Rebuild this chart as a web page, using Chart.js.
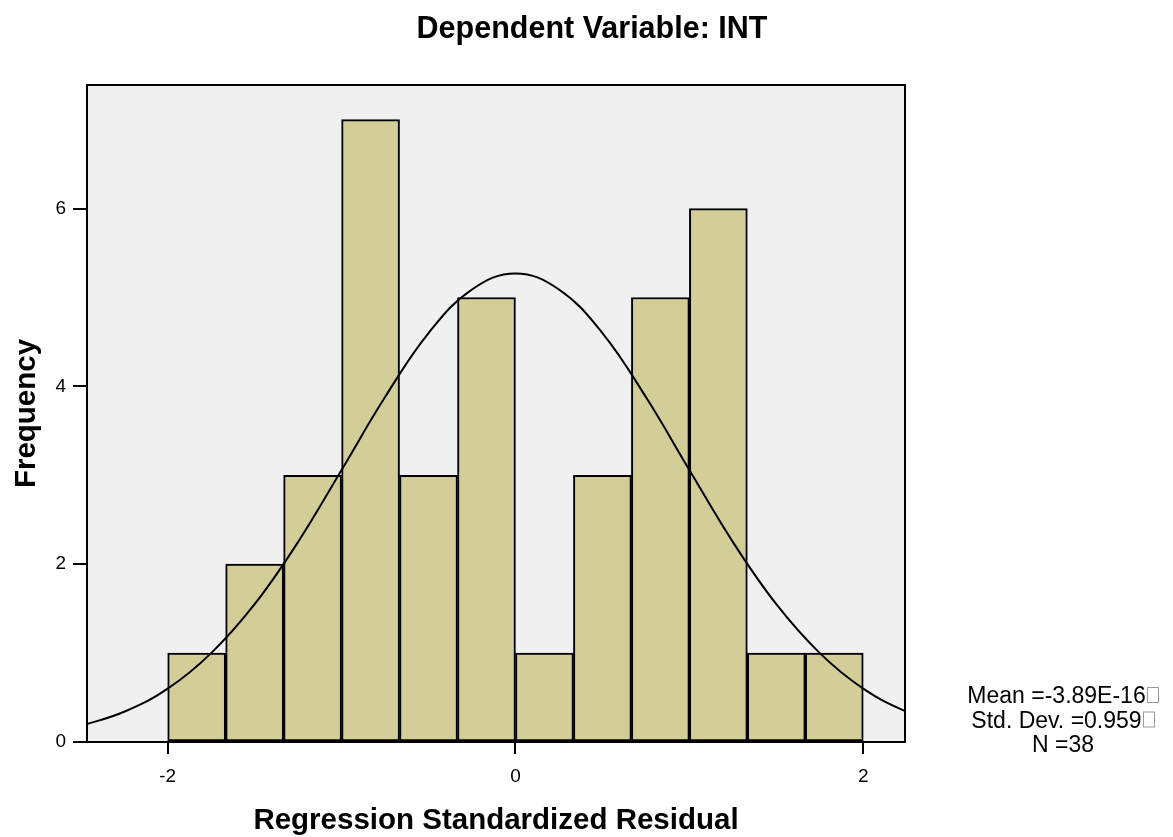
<!DOCTYPE html>
<html>
<head>
<meta charset="utf-8">
<title>Dependent Variable: INT</title>
<script src="https://cdn.jsdelivr.net/npm/chart.js@4.4.1/dist/chart.umd.min.js"></script>
<style>
  html, body { margin: 0; padding: 0; background: #fff; }
  #wrap { width: 1173px; height: 837px; }
</style>
</head>
<body>
<div id="wrap"><canvas id="chart" width="1173" height="837"></canvas></div>
<script>
// Histogram bins (centres of the 12 bars between -2 and 2) and their counts
const binCenters = [-1.8333, -1.5, -1.1667, -0.8333, -0.5, -0.1667, 0.1667, 0.5, 0.8333, 1.1667, 1.5, 1.8333];
const counts = [1, 2, 3, 7, 3, 5, 1, 3, 5, 6, 1, 1];

// Normal curve
const curveX = [-2.5, -2.25, -2, -1.75, -1.5, -1.25, -1, -0.75, -0.5, -0.25, 0, 0.25, 0.5, 0.75, 1, 1.25, 1.5, 1.75, 2, 2.25, 2.5];
const curveY = [0.18, 0.34, 0.60, 1.00, 1.55, 2.25, 3.06, 3.88, 4.60, 5.09, 5.27, 5.09, 4.60, 3.88, 3.06, 2.25, 1.55, 1.00, 0.60, 0.34, 0.18];

const titleText = 'Dependent Variable: INT';
// stats block; the trailing box is the unknown glyph SPSS prints
const statLines = ['Mean =-3.89E-16', 'Std. Dev. =0.959', 'N =38'];
const statBox = [true, true, false];

const FONT = '"Liberation Sans", Arial, sans-serif';

// Plot background + frame
const frame = {
    id: 'frame',
    beforeDraw(chart) {
        const a = chart.chartArea, ctx = chart.ctx;
        ctx.save();
        ctx.fillStyle = '#f0f0f0';
        ctx.fillRect(a.left, a.top, a.right - a.left, a.bottom - a.top);
        ctx.restore();
    },
    afterDraw(chart) {
        const a = chart.chartArea, ctx = chart.ctx;
        ctx.save();
        ctx.strokeStyle = '#000';
        ctx.lineWidth = 2;
        ctx.strokeRect(a.left, a.top, a.right - a.left, a.bottom - a.top);
        ctx.restore();
    }
};

// Main title and the stats block on the right
const labels = {
    id: 'labels',
    afterDraw(chart) {
        const ctx = chart.ctx;
        ctx.save();
        ctx.fillStyle = '#000';
        ctx.textAlign = 'center';
        ctx.textBaseline = 'alphabetic';
        ctx.font = 'bold 30.5px ' + FONT;
        ctx.fillText(titleText, 592, 38);

        ctx.font = '23px ' + FONT;
        ctx.textAlign = 'left';
        const boxW = 12;
        statLines.forEach((s, i) => {
            const y = 703 + i * 24.5;
            const w = ctx.measureText(s).width + (statBox[i] ? boxW + 1 : 0);
            const x0 = 1063 - w / 2;
            ctx.fillStyle = '#000';
            ctx.fillText(s, x0, y);
            if (statBox[i]) {
                ctx.strokeStyle = '#9a9a9a';
                ctx.lineWidth = 1;
                const bx = x0 + ctx.measureText(s).width + 1;
                ctx.strokeRect(Math.round(bx) + 0.5, y - 15.5, boxW - 1, 15);
            }
        });
        ctx.restore();
    }
};

const ctx = document.getElementById('chart').getContext('2d');
new Chart(ctx, {
    type: 'bar',
    data: {
        datasets: [
            {
                type: 'line',
                data: curveX.map((x, i) => ({x: x, y: curveY[i]})),
                borderColor: '#000',
                borderWidth: 2,
                pointRadius: 0,
                tension: 0.4,
                fill: false,
                order: 0
            },
            {
                type: 'bar',
                data: binCenters.map((x, i) => ({x: x, y: counts[i]})),
                backgroundColor: '#d3ce98',
                borderColor: '#000',
                borderWidth: 2,
                borderSkipped: false,
                barPercentage: 1,
                categoryPercentage: 1,
                order: 1
            }
        ]
    },
    options: {
        responsive: false,
        animation: false,
        layout: { padding: { top: 85, right: 268, bottom: 0, left: 0 } },
        plugins: {
            legend: { display: false },
            tooltip: { enabled: false },
            title: { display: false }
        },
        scales: {
            x: {
                type: 'linear',
                min: -2.464,
                max: 2.24,
                offset: false,
                afterFit: s => { s.height = 95; },
                border: { display: true, color: '#000', width: 2 },
                grid: { offset: false, drawOnChartArea: false, drawTicks: true, tickLength: 12, color: '#000', lineWidth: 2 },
                ticks: { stepSize: 2, includeBounds: false, color: '#000', padding: 11, font: { family: FONT, size: 19 } },
                title: {
                    display: true,
                    text: 'Regression Standardized Residual',
                    color: '#000',
                    font: { family: FONT, size: 29.5, weight: 'bold', lineHeight: 1 },
                    padding: { top: 0, bottom: 1 }
                }
            },
            y: {
                min: 0,
                max: 7.39,
                afterFit: s => { s.width = 87; },
                border: { display: true, color: '#000', width: 2 },
                grid: { offset: false, drawOnChartArea: false, drawTicks: true, tickLength: 14, color: '#000', lineWidth: 2 },
                ticks: { stepSize: 2, includeBounds: false, color: '#000', padding: 7, font: { family: FONT, size: 19 } },
                title: {
                    display: true,
                    text: 'Frequency',
                    color: '#000',
                    font: { family: FONT, size: 29.5, weight: 'bold', lineHeight: 1 },
                    padding: { top: 12, bottom: 0 }
                }
            }
        }
    },
    plugins: [frame, labels]
});
</script>
</body>
</html>
